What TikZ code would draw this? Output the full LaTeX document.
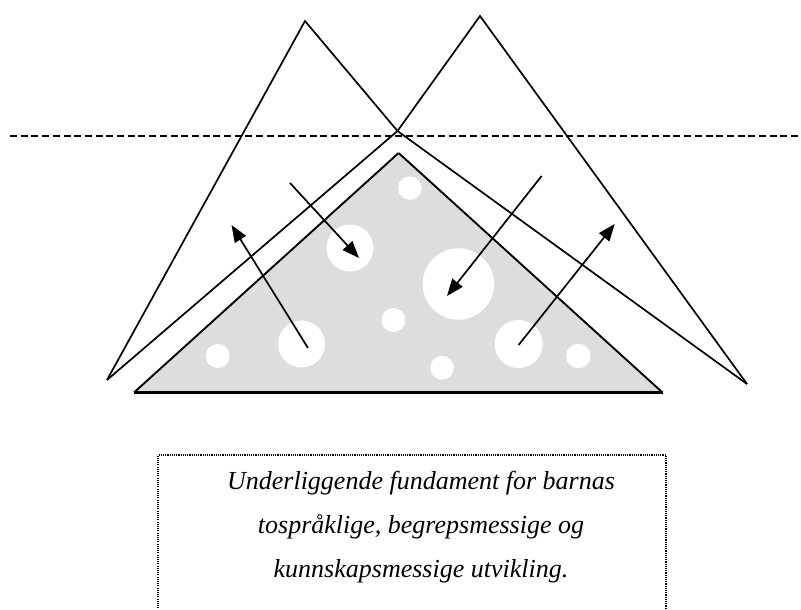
\documentclass[tikz,border=0pt]{standalone}
\usepackage{fontspec}
\setmainfont{Liberation Serif}
\usetikzlibrary{arrows.meta}
\definecolor{holegray}{HTML}{DDDDDD}
\begin{document}
\begin{tikzpicture}[x=1pt,y=-1pt,
  thinline/.style={line width=1.7pt, line join=miter},
  arr/.style={line width=1.7pt, -{Triangle[length=17pt,width=13pt]}},
  caption/.style={font=\itshape\fontsize{26}{30}\selectfont, anchor=base, inner sep=0pt}]
\useasboundingbox (0,0) rectangle (801,610);
% coordinates
\coordinate (BL) at (107,380);
\coordinate (BR) at (747,384);
\coordinate (PL) at (305,21);
\coordinate (PR) at (480,16);
\coordinate (X) at (397.5,131);
\coordinate (TA) at (398.6,153);
\coordinate (TL) at (134,392.5);
\coordinate (TR) at (662.5,392.5);
\coordinate (DL) at (10,136);
\coordinate (DR) at (801,136);
% gray triangle
\fill[holegray] (TA) -- (TR) -- (TL) -- cycle;
\foreach \cx/\cy/\r in {410/188/11.8, 350/248/23.5, 458.4/284/35.7, 393.5/320/12, 301.5/344/23.5, 217.7/356/12, 442/367.7/11.8, 518.6/344/24, 578.4/356/12.2}
  \fill[white] (\cx,\cy) circle[radius=\r];
\draw[line width=1.9pt, line join=miter] (TA) -- (TR);
\draw[line width=1.9pt, line join=miter] (TA) -- (TL);
\draw[line width=2.4pt] (TL) -- (TR);
% two peaks
\draw[thinline] (BL) -- (PL) -- (X) -- (BR);
\draw[thinline] (BR) -- (PR) -- (X) -- (BL);
% dashed line
\draw[line width=1.9pt, dash pattern=on 7pt off 3.7pt] (DL) -- (DR);
% arrows
\coordinate (a1s) at (308,348); \coordinate (a1e) at (231.5,225);
\coordinate (a2s) at (290,183); \coordinate (a2e) at (359,258);
\coordinate (a3s) at (541.6,176); \coordinate (a3e) at (447,296);
\coordinate (a4s) at (518.6,345); \coordinate (a4e) at (614.7,224);
\draw[arr] (a1s) -- (a1e);
\draw[arr] (a2s) -- (a2e);
\draw[arr] (a3s) -- (a3e);
\draw[arr] (a4s) -- (a4e);
% caption box
\draw[line width=1.1pt, dash pattern=on 1.1pt off 1.1pt] (158,615) -- (158,455) -- (666,455) -- (666,615);
\node[caption] (c1) at (421,489) {Underliggende fundament for barnas};
\node[caption] (c2) at (421,533) {tospråklige, begrepsmessige og};
\node[caption] (c3) at (421,577) {kunnskapsmessige utvikling.};
\end{tikzpicture}
\end{document}
